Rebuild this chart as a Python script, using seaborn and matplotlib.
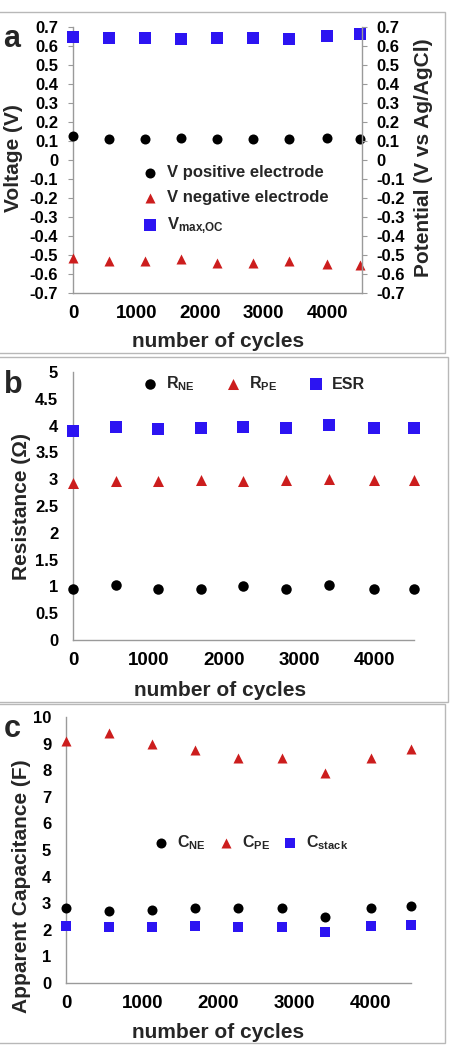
import numpy as np
import matplotlib
matplotlib.use("Agg")
import matplotlib.pyplot as plt
from matplotlib.patches import Rectangle
from matplotlib.ticker import FixedLocator, FuncFormatter
import seaborn as sns

# 循環次數 (x)
cycles = [0, 570, 1130, 1695, 2260, 2830, 3400, 4000, 4525]

# (a) 電位
v_positive = [0.126, 0.108, 0.108, 0.114, 0.108, 0.108, 0.108, 0.117, 0.108]
v_negative = [-0.516, -0.534, -0.534, -0.522, -0.543, -0.543, -0.534, -0.548, -0.551]
v_max_oc = [0.647, 0.644, 0.644, 0.639, 0.644, 0.644, 0.639, 0.653, 0.661]

# (b) 電阻
r_ne = [0.96, 1.02, 0.96, 0.96, 1.01, 0.96, 1.02, 0.96, 0.96]
r_pe = [2.93, 2.96, 2.96, 2.98, 2.96, 2.98, 3.00, 2.98, 2.98]
esr = [3.90, 3.98, 3.94, 3.96, 3.98, 3.96, 4.02, 3.96, 3.96]

# (c) 電容
c_ne = [2.81, 2.71, 2.75, 2.81, 2.81, 2.81, 2.50, 2.81, 2.90]
c_pe = [9.09, 9.38, 9.00, 8.75, 8.46, 8.46, 7.88, 8.46, 8.79]
c_stack = [2.13, 2.09, 2.09, 2.13, 2.09, 2.09, 1.90, 2.13, 2.19]

x_ticks = [0, 1000, 2000, 3000, 4000]
BLACK, RED, BLUE = "#000000", "#cc1d1d", "#2c14f2"

sns.set_style("white")
plt.rcParams.update({
    "font.family": ["Liberation Sans", "DejaVu Sans"],
    "font.weight": "bold",
    "axes.labelweight": "bold",
    "axes.unicode_minus": False,
    "mathtext.default": "regular",
    "axes.edgecolor": "#9a9a9a",
    "axes.linewidth": 1.0,
})

W, H = 455, 1046
fig = plt.figure(figsize=(W / 100, H / 100), dpi=100)


def px_axes(left, top, right, bottom):
    """依像素位置建立座標軸"""
    return fig.add_axes([left / W, 1 - bottom / H, (right - left) / W, (bottom - top) / H])


def style_axis(ax, yticks, xmax):
    ax.set_xlim(0, xmax)
    ax.set_ylim(yticks[0], yticks[-1])
    ax.xaxis.set_major_locator(FixedLocator(x_ticks))
    ax.yaxis.set_major_locator(FixedLocator(yticks))
    ax.yaxis.set_major_formatter(FuncFormatter(lambda v, p: f"{v:g}"))
    ax.tick_params(axis="both", direction="out", length=3.6, width=0.8,
                   color="#9a9a9a", labelcolor="black")
    ax.tick_params(axis="x", labelsize=13.5, pad=5)
    ax.tick_params(axis="y", labelsize=12, pad=7)
    ax.set_xlabel("number of cycles", fontsize=15)


def points(ax, y, marker, color, s, label):
    sns.scatterplot(x=cycles, y=y, marker=marker, color=color, s=s, linewidth=0,
                    clip_on=False, label=label, legend=False, zorder=3, ax=ax)


# ---------- (a) ----------
ax_a = px_axes(73, 27, 362, 293)
yt_a = list(np.round(np.arange(-7, 8) / 10, 1))
points(ax_a, v_positive, "o", BLACK, 52, "V positive electrode")
points(ax_a, v_negative, "^", RED, 52, "V negative electrode")
points(ax_a, v_max_oc, "s", BLUE, 63, r"V$_{\mathregular{max{,}OC}}$")
style_axis(ax_a, yt_a, 4550)
sns.despine(ax=ax_a, top=True, right=True)
ax_a.set_ylabel("Voltage (V)", fontsize=15)
ax_a.yaxis.set_label_coords(-0.173, 0.508)
ax_a.xaxis.set_label_coords(0.502, -0.147)

ax_a2 = ax_a.twinx()
ax_a2.set_ylim(yt_a[0], yt_a[-1])
ax_a2.yaxis.set_major_locator(FixedLocator(yt_a))
ax_a2.yaxis.set_major_formatter(FuncFormatter(lambda v, p: f"{v:g}"))
ax_a2.tick_params(axis="y", direction="out", length=3.6, width=0.8,
                  color="#9a9a9a", labelcolor="black", labelsize=12, pad=7)
for side in ["top", "left", "bottom"]:
    ax_a2.spines[side].set_visible(False)
ax_a2.set_ylabel("Potential (V vs Ag/AgCl)", fontsize=15)
ax_a2.yaxis.set_label_coords(1.18, 0.508)

ax_a.legend(loc="upper left", bbox_to_anchor=(142 / W, 1 - 165 / H),
            bbox_transform=fig.transFigure, frameon=False, fontsize=12,
            handlelength=1.0, handletextpad=0.5, labelspacing=0.6,
            borderpad=0, borderaxespad=0, scatterpoints=1)

# ---------- (b) ----------
ax_b = px_axes(73, 372, 414, 640)
points(ax_b, r_ne, "o", BLACK, 57, r"R$_{\mathregular{NE}}$")
points(ax_b, r_pe, "^", RED, 63, r"R$_{\mathregular{PE}}$")
points(ax_b, esr, "s", BLUE, 74, "ESR")
style_axis(ax_b, list(np.arange(0, 5.01, 0.5)), 4525)
sns.despine(ax=ax_b)
ax_b.set_ylabel("Resistance (Ω)", fontsize=15)
ax_b.yaxis.set_label_coords(-0.123, 0.5)
ax_b.xaxis.set_label_coords(0.431, -0.153)
ax_b.legend(loc="center left", bbox_to_anchor=(142 / W, 1 - 384 / H),
            bbox_transform=fig.transFigure, frameon=False, fontsize=11.5, ncol=3,
            handlelength=1.0, handletextpad=0.5, columnspacing=1.9,
            borderpad=0, borderaxespad=0, scatterpoints=1)

# ---------- (c) ----------
ax_c = px_axes(66, 717, 411, 983)
points(ax_c, c_ne, "o", BLACK, 52, r"C$_{\mathregular{NE}}$")
points(ax_c, c_pe, "^", RED, 52, r"C$_{\mathregular{PE}}$")
points(ax_c, c_stack, "s", BLUE, 55, r"C$_{\mathregular{stack}}$")
style_axis(ax_c, list(range(0, 11)), 4525)
sns.despine(ax=ax_c)
ax_c.set_ylabel("Apparent Capacitance (F)", fontsize=15)
ax_c.yaxis.set_label_coords(-0.101, 0.365)
ax_c.xaxis.set_label_coords(0.441, -0.150)
ax_c.legend(loc="center left", bbox_to_anchor=(153 / W, 1 - 843 / H),
            bbox_transform=fig.transFigure, frameon=False, fontsize=11.5, ncol=3,
            handlelength=1.0, handletextpad=0.5, columnspacing=0.75,
            borderpad=0, borderaxespad=0, scatterpoints=1)

# 面板外框與字母
for (x0, y0, x1, y1) in [(-3, 12, 445, 353), (-3, 357, 448, 702), (-3, 704, 445, 1043)]:
    fig.add_artist(Rectangle((x0 / W, 1 - y1 / H), (x1 - x0) / W, (y1 - y0) / H,
                             transform=fig.transFigure, fill=False,
                             edgecolor="#b8b8b8", linewidth=1.0))
for letter, x, y in [("a", 3, 47), ("b", 4, 393), ("c", 4, 737)]:
    fig.text(x / W, 1 - y / H, letter, fontsize=22, fontweight="bold",
             ha="left", va="baseline")

fig.savefig("out.png", dpi=100)
